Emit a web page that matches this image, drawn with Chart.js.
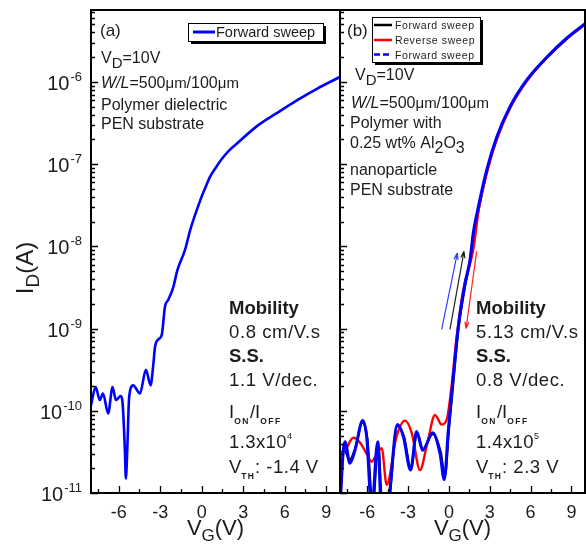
<!DOCTYPE html>
<html>
<head>
<meta charset="utf-8">
<script src="https://cdn.jsdelivr.net/npm/chart.js@4.4.0/dist/chart.umd.min.js"></script>
<style>
  html, body { margin: 0; padding: 0; background: #fff; }
  #wrap { position: relative; width: 586px; height: 544px; }
  canvas { position: absolute; left: 0; top: 0; }
</style>
</head>
<body>
<div id="wrap">
  <canvas id="panelA" width="586" height="544"></canvas>
  <canvas id="panelB" width="586" height="544"></canvas>
</div>
<script>
// panel (a): polymer dielectric, forward sweep (VG in V, ID in A)
const vgA = [-8.0, -7.66, -7.37, -7.13, -6.76, -6.44, -6.2, -5.86, -5.72, -5.55, -5.48, -5.38, -5.24, -4.95,
  -4.46, -4.03, -3.69, -3.5, -3.37, -3.13, -2.89, -2.65, -2.41, -2.05, -1.76, -1.2, -0.83, -0.11, 0.25, 0.62,
  1.1, 1.58, 2.07, 2.55, 4.0, 5.46, 6.91, 8.36, 10.0];
const idA = [1.17e-10, 1.95e-10, 1.35e-10, 1.62e-10, 9.3e-11, 1.95e-10, 1.35e-10, 1.51e-10, 1.26e-10, 3.3e-11,
  1.5e-11, 3.3e-11, 1.48e-10, 2.04e-10, 1.62e-10, 3.16e-10, 2.04e-10, 3.6e-10, 6.0e-10, 7.4e-10, 8.3e-10,
  1.86e-9, 2.24e-9, 3.2e-9, 5.1e-9, 9.1e-9, 1.58e-8, 3.6e-8, 5.1e-8, 7.1e-8, 9.5e-8, 1.23e-7, 1.51e-7,
  1.78e-7, 2.9e-7, 4.2e-7, 6.0e-7, 8.3e-7, 1.15e-6];

// panel (b): polymer + Al2O3 nanoparticles
const vgBlue = [-8.0, -7.76, -7.63, -7.27, -6.9, -6.33, -6.04, -5.67, -5.23, -4.95, -4.57, -3.79, -3.35, -2.81,
  -2.37, -1.93, -1.19, -0.65, -0.34, -0.04, 0.32, 0.69, 1.18, 1.55, 1.79, 2.16, 2.78, 3.5, 4.49, 5.71, 7.19,
  8.65, 10.0];
const idBlue = [6.3e-12, 3.3e-11, 4.2e-11, 2.3e-11, 3.3e-11, 7.6e-11, 4.8e-11, 6.3e-12, 4.2e-11, 6.3e-12,
  6.3e-12, 6.8e-11, 4.9e-11, 1.9e-11, 5.6e-11, 3.3e-11, 5.4e-11, 3.0e-11, 1.45e-11, 5.9e-11, 2.6e-10,
  1.05e-9, 3.5e-9, 6.8e-9, 1.45e-8, 3.0e-8, 8.5e-8, 2.1e-7, 5.0e-7, 1.05e-6, 2.0e-6, 3.4e-6, 5.1e-6];

const vgBlack = [-8.0, -7.7, -7.3, -6.9, -6.35, -6.0, -5.6, -5.2, -4.9, -4.5, -3.8, -3.3, -2.8, -2.35, -1.9,
  -1.2, -0.6, -0.3, 0.0, 0.35, 0.7, 1.2, 1.55, 1.8, 2.2, 2.8, 3.5, 4.5, 5.7, 7.2, 8.65, 10.0];
const idBlack = [8.0e-12, 3.5e-11, 2.5e-11, 3.4e-11, 7.2e-11, 4.6e-11, 7.0e-12, 4.0e-11, 7.0e-12, 7.0e-12,
  6.5e-11, 4.8e-11, 2.0e-11, 5.4e-11, 3.4e-11, 5.2e-11, 3.1e-11, 1.6e-11, 6.0e-11, 2.5e-10, 1.0e-9, 3.4e-9,
  6.6e-9, 1.4e-8, 2.9e-8, 8.3e-8, 2.05e-7, 4.9e-7, 1.03e-6, 1.98e-6, 3.35e-6, 5.05e-6];

const vgRed = [-8.0, -7.63, -7.02, -6.53, -6.04, -5.67, -5.3, -4.94, -4.57, -3.84, -3.23, -2.73, -2.12, -1.59,
  -1.02, -0.53, -0.16, 0.21, 0.57, 1.06, 1.79, 2.22, 2.85, 3.57, 4.55, 5.77, 7.25, 8.7, 10.0];
const idRed = [3.1e-11, 3.3e-11, 4.7e-11, 4.1e-11, 3.0e-11, 2.4e-11, 3.0e-11, 3.5e-11, 1.26e-11, 4.9e-11,
  7.6e-11, 5.4e-11, 1.9e-11, 4.0e-11, 8.9e-11, 6.8e-11, 7.8e-11, 2.1e-10, 7.9e-10, 2.95e-9, 9.1e-9, 3.0e-8,
  8.5e-8, 2.1e-7, 5.0e-7, 1.05e-6, 2.0e-6, 3.4e-6, 5.0e-6];

// sweep-direction arrows in panel (b): [VG, ID] tail -> head
const arrowBlue = [[-0.53, 9.8e-10], [0.62, 8.3e-9]];
const arrowBlack = [[0.08, 9.8e-10], [1.11, 8.7e-9]];
const arrowRed = [[2.04, 8.7e-9], [1.26, 1.0e-9]];

// axis ticks
const xMajor = [-6, -3, 0, 3, 6, 9];
const xMinor = [-7.5, -4.5, -1.5, 1.5, 4.5, 7.5];
const yDecades = [-11, -10, -9, -8, -7, -6];

const FONT = '"Liberation Sans", Arial, sans-serif';
const INK = '#1c1c1c';

const pts = (xs, ys) => xs.map((v, i) => ({ x: v, y: ys[i] }));

function setFont(ctx, r) {
  ctx.font = (r.i ? 'italic ' : '') + (r.b ? 'bold ' : '') + (r.s || 16) + 'px ' + FONT;
  ctx.letterSpacing = (r.ls || 0) + 'px';
}

// draw a line of mixed runs (for sub/superscripts)
function drawRuns(ctx, x, y, runs, align) {
  let w = 0;
  runs.forEach(r => { setFont(ctx, r); w += ctx.measureText(r.t).width; });
  let cx = align === 'center' ? x - w / 2 : align === 'right' ? x - w : x;
  ctx.textAlign = 'left';
  ctx.textBaseline = 'alphabetic';
  runs.forEach(r => {
    setFont(ctx, r);
    ctx.fillStyle = r.c || INK;
    ctx.fillText(r.t, cx, y + (r.dy || 0));
    cx += ctx.measureText(r.t).width;
  });
  ctx.letterSpacing = '0px';
}

function drawFrameAndTicks(chart) {
  const ctx = chart.ctx, a = chart.chartArea;
  const xs = chart.scales.x, ys = chart.scales.y;
  ctx.save();
  ctx.strokeStyle = '#000';
  ctx.lineWidth = 1.3;
  ctx.beginPath();
  yDecades.forEach(n => {
    for (let k = 1; k <= 9; k++) {
      const v = k * Math.pow(10, n);
      if (v > ys.max) break;
      const py = Math.round(ys.getPixelForValue(v)) + 0.5;
      ctx.moveTo(a.left, py);
      ctx.lineTo(a.left + (k === 1 ? 7 : 4), py);
    }
  });
  xMajor.forEach(v => {
    const px = Math.round(xs.getPixelForValue(v)) + 0.5;
    ctx.moveTo(px, a.bottom); ctx.lineTo(px, a.bottom - 7);
  });
  xMinor.forEach(v => {
    const px = Math.round(xs.getPixelForValue(v)) + 0.5;
    ctx.moveTo(px, a.bottom); ctx.lineTo(px, a.bottom - 4);
  });
  ctx.stroke();
  ctx.lineWidth = 2;
  ctx.strokeRect(a.left, a.top, a.right - a.left, a.bottom - a.top);

  // x tick labels + title
  xMajor.forEach(v => drawRuns(ctx, xs.getPixelForValue(v), 518, [{ t: String(v), s: 18 }], 'center'));
  drawRuns(ctx, (a.left + a.right) / 2, 535,
    [{ t: 'V', s: 22 }, { t: 'G', s: 17, dy: 6 }, { t: '(V)', s: 22 }], 'center');
  ctx.restore();
}

function statsBlock(ctx, x, mob, ss, onoff, exp, vth) {
  drawRuns(ctx, x, 314, [{ t: 'Mobility', s: 18.5, b: true }]);
  drawRuns(ctx, x, 338, [{ t: mob, s: 18.5, ls: 0.6 }]);
  drawRuns(ctx, x, 362, [{ t: 'S.S.', s: 18.5, b: true }]);
  drawRuns(ctx, x, 386, [{ t: ss, s: 18.5, ls: 0.6 }]);
  drawRuns(ctx, x, 418, [{ t: 'I', s: 18.5 }, { t: 'ON', s: 8.5, b: true, dy: 6, ls: 1.5 },
    { t: '/I', s: 18.5 }, { t: 'OFF', s: 8.5, b: true, dy: 6, ls: 1.5 }]);
  drawRuns(ctx, x, 448, [{ t: onoff, s: 18.5, ls: 0.4 }, { t: exp, s: 9, dy: -9 }]);
  drawRuns(ctx, x, 473, [{ t: 'V', s: 18.5 }, { t: 'TH', s: 8.5, b: true, dy: 6, ls: 1.2 },
    { t: vth, s: 18.5, ls: 0.5 }]);
}

function legendBox(ctx, x, y, w, h) {
  ctx.fillStyle = '#000';
  ctx.fillRect(x + 3, y + 3, w, h);
  ctx.fillStyle = '#fff';
  ctx.fillRect(x, y, w, h);
  ctx.strokeStyle = '#000';
  ctx.lineWidth = 1;
  ctx.strokeRect(x + 0.5, y + 0.5, w, h);
}

function arrow(chart, seg, color) {
  const ctx = chart.ctx, xs = chart.scales.x, ys = chart.scales.y;
  const x1 = xs.getPixelForValue(seg[0][0]), y1 = ys.getPixelForValue(seg[0][1]);
  const x2 = xs.getPixelForValue(seg[1][0]), y2 = ys.getPixelForValue(seg[1][1]);
  const ang = Math.atan2(y2 - y1, x2 - x1);
  ctx.strokeStyle = color;
  ctx.lineWidth = 1.2;
  ctx.beginPath();
  ctx.moveTo(x1, y1); ctx.lineTo(x2, y2);
  ctx.moveTo(x2, y2); ctx.lineTo(x2 - 7 * Math.cos(ang - 0.3), y2 - 7 * Math.sin(ang - 0.3));
  ctx.moveTo(x2, y2); ctx.lineTo(x2 - 7 * Math.cos(ang + 0.3), y2 - 7 * Math.sin(ang + 0.3));
  ctx.stroke();
}

function decorA(chart) {
  const ctx = chart.ctx, ys = chart.scales.y;
  drawFrameAndTicks(chart);
  ctx.save();
  // y tick labels 10^n
  yDecades.forEach(n => {
    const py = ys.getPixelForValue(Math.pow(10, n));
    ctx.font = '13px ' + FONT;
    const sw = ctx.measureText(String(n)).width;
    drawRuns(ctx, 82, py - 1, [{ t: String(n), s: 13 }], 'right');
    drawRuns(ctx, 82 - sw - 1, py + 8, [{ t: '10', s: 20 }], 'right');
  });
  // y title
  ctx.save();
  ctx.translate(33, 268);
  ctx.rotate(-Math.PI / 2);
  drawRuns(ctx, 0, 0, [{ t: 'I', s: 24 }, { t: 'D', s: 19, dy: 6 }, { t: '(A)', s: 24 }], 'center');
  ctx.restore();

  drawRuns(ctx, 100, 36, [{ t: '(a)', s: 17 }]);
  drawRuns(ctx, 101, 63, [{ t: 'V', s: 16 }, { t: 'D', s: 15, dy: 5 }, { t: '=10V', s: 16 }]);
  drawRuns(ctx, 101, 88, [{ t: 'W/L', s: 16, i: true }, { t: '=500', s: 16 }, { t: 'μm', s: 15 },
    { t: '/100', s: 16 }, { t: 'μm', s: 15 }]);
  drawRuns(ctx, 101, 110, [{ t: 'Polymer dielectric', s: 16 }]);
  drawRuns(ctx, 101, 129, [{ t: 'PEN substrate', s: 16 }]);
  statsBlock(ctx, 229, '0.8 cm/V.s', '1.1 V/dec.', '1.3x10', '4', ': -1.4 V');

  legendBox(ctx, 188, 23, 135, 18);
  ctx.strokeStyle = '#0000ff';
  ctx.lineWidth = 3;
  ctx.beginPath(); ctx.moveTo(193, 32); ctx.lineTo(215, 32); ctx.stroke();
  drawRuns(ctx, 216, 37, [{ t: 'Forward sweep', s: 14.5 }]);
  ctx.restore();
}

function decorB(chart) {
  const ctx = chart.ctx;
  drawFrameAndTicks(chart);
  ctx.save();
  arrow(chart, arrowBlue, '#3040ff');
  arrow(chart, arrowBlack, '#222');
  arrow(chart, arrowRed, '#ff2020');

  drawRuns(ctx, 347, 36, [{ t: '(b)', s: 17 }]);
  drawRuns(ctx, 355, 80, [{ t: 'V', s: 16 }, { t: 'D', s: 15, dy: 5 }, { t: '=10V', s: 16 }]);
  drawRuns(ctx, 351, 108, [{ t: 'W/L', s: 16, i: true }, { t: '=500', s: 16 }, { t: 'μm', s: 15 },
    { t: '/100', s: 16 }, { t: 'μm', s: 15 }]);
  drawRuns(ctx, 350, 128, [{ t: 'Polymer with', s: 16 }]);
  drawRuns(ctx, 350, 148, [{ t: '0.25 wt% Al', s: 16 }, { t: '2', s: 16, dy: 5 }, { t: 'O', s: 16 },
    { t: '3', s: 16, dy: 5 }]);
  drawRuns(ctx, 350, 175, [{ t: 'nanoparticle', s: 16 }]);
  drawRuns(ctx, 350, 195, [{ t: 'PEN substrate', s: 16 }]);
  statsBlock(ctx, 476, '5.13 cm/V.s', '0.8 V/dec.', '1.4x10', '5', ': 2.3 V');

  legendBox(ctx, 372, 17, 108, 45);
  const rows = [
    { y: 25, c: '#000', dash: [], t: 'Forward sweep' },
    { y: 40, c: '#ff0000', dash: [], t: 'Reverse sweep' },
    { y: 54.5, c: '#0000ff', dash: [6, 3], t: 'Forward sweep' }
  ];
  rows.forEach(r => {
    ctx.strokeStyle = r.c;
    ctx.lineWidth = 2.5;
    ctx.setLineDash(r.dash);
    ctx.beginPath(); ctx.moveTo(374, r.y); ctx.lineTo(392, r.y); ctx.stroke();
    ctx.setLineDash([]);
    drawRuns(ctx, 395, r.y + 4, [{ t: r.t, s: 10.5, ls: 0.6 }]);
  });
  ctx.restore();
}

function makeChart(id, datasets, pad, decor) {
  return new Chart(document.getElementById(id), {
    type: 'line',
    data: { datasets },
    options: {
      responsive: false,
      animation: false,
      events: [],
      layout: { padding: pad },
      plugins: { legend: { display: false }, tooltip: { enabled: false } },
      scales: {
        x: { type: 'linear', min: -8, max: 10, display: false },
        y: { type: 'logarithmic', min: 1e-11, max: 7.5e-6, display: false }
      }
    },
    plugins: [{ id: 'decor', afterDraw: decor }]
  });
}

const line = (data, color, width, order) => ({
  data, borderColor: color, borderWidth: width, pointRadius: 0,
  cubicInterpolationMode: 'monotone', clip: 0, order, fill: false
});

makeChart('panelA', [line(pts(vgA, idA), '#0000ff', 2.6, 0)],
  { left: 91, right: 246, top: 10, bottom: 51 }, decorA);

makeChart('panelB', [
  line(pts(vgBlue, idBlue), '#0000ff', 3, 0),
  line(pts(vgRed, idRed), '#ff0000', 2.4, 1),
  line(pts(vgBlack, idBlack), '#000000', 2.4, 2)
], { left: 340, right: 1, top: 10, bottom: 51 }, decorB);
</script>
</body>
</html>
